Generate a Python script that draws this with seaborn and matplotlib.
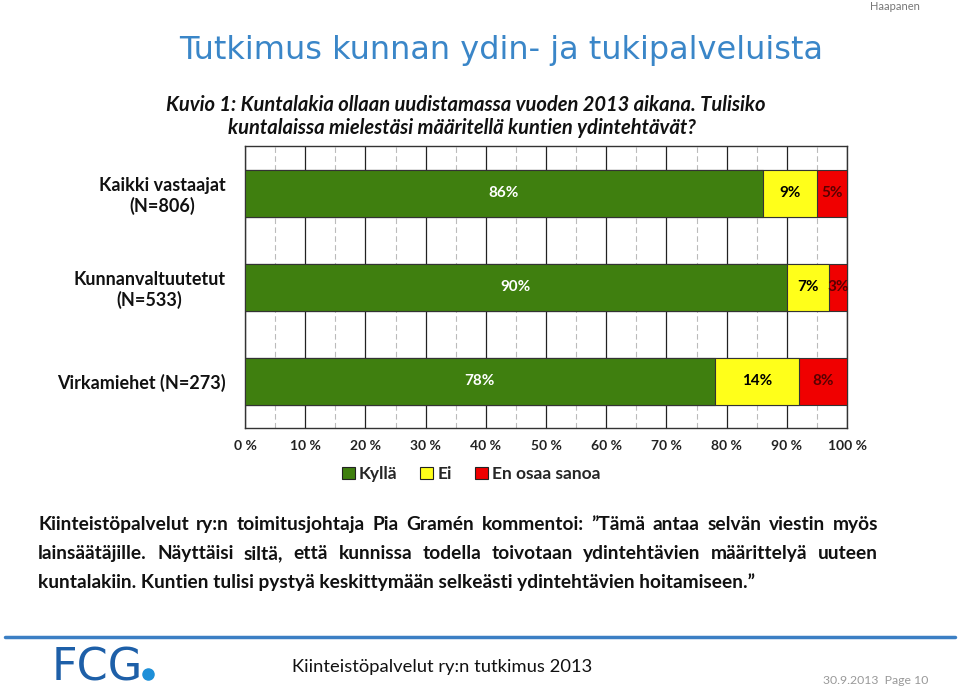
import matplotlib
matplotlib.use("Agg")
import matplotlib.pyplot as plt
from matplotlib.patches import Patch
from matplotlib.lines import Line2D
from matplotlib.ticker import MultipleLocator, FuncFormatter
import seaborn as sns
import pandas as pd
import numpy as np

# ---- data ----
categories = ["Kaikki vastaajat\n(N=806)", "Kunnanvaltuutetut\n(N=533)", "Virkamiehet (N=273)"]
kylla = [86, 90, 78]
ei = [9, 7, 14]
en_osaa = [5, 3, 8]
series_names = ["Kyllä", "Ei", "En osaa sanoa"]

title = "Tutkimus kunnan ydin- ja tukipalveluista"
subtitle = ["Kuvio 1: Kuntalakia ollaan uudistamassa vuoden 2013 aikana. Tulisiko",
            "kuntalaissa mielestäsi määritellä kuntien ydintehtävät?"]
comment_lines = [
    "Kiinteistöpalvelut ry:n toimitusjohtaja Pia Gramén kommentoi: ”Tämä antaa selvän viestin myös",
    "lainsäätäjille. Näyttäisi siltä, että kunnissa todella toivotaan ydintehtävien määrittelyä uuteen",
    "kuntalakiin. Kuntien tulisi pystyä keskittymään selkeästi ydintehtävien hoitamiseen.”",
]
footer = "Kiinteistöpalvelut ry:n tutkimus 2013"
date_page = "30.9.2013  Page 10"
author = "Haapanen"

colors = ["#3F7F0F", "#FFFF1A", "#F00000"]
text_colors = ["white", "black", "#5a0000"]

sns.set_theme(style="white")
plt.rcParams["font.family"] = ["Lato", "DejaVu Sans"]

fig = plt.figure(figsize=(9.6, 6.91), dpi=100)
W, H = 960, 691
ax = fig.add_axes([245 / W, 1 - 428 / H, (847 - 245) / W, (428 - 146) / H])

df = pd.DataFrame({"cat": categories, "Kyllä": kylla, "Ei": ei, "En osaa sanoa": en_osaa})
vals = df[series_names].to_numpy()
cum = np.cumsum(vals, axis=1)

# draw stacked bars from the longest (total) to shortest
for i in reversed(range(3)):
    sns.barplot(x=cum[:, i], y=df["cat"], orient="h", color=colors[i], width=0.5,
                edgecolor="#333333", linewidth=0.8, saturation=1, ax=ax, zorder=3)

# segment labels
for r in range(3):
    for i in range(3):
        left = cum[r, i] - vals[r, i]
        ax.text(left + vals[r, i] / 2, r, f"{vals[r, i]}%", ha="center", va="center",
                color=text_colors[i], fontsize=11, fontweight="bold", zorder=5)

ax.set_xlim(0, 100)
ax.set_ylim(2.5, -0.5)
ax.xaxis.set_major_locator(MultipleLocator(10))
ax.xaxis.set_minor_locator(MultipleLocator(5))
ax.xaxis.set_major_formatter(FuncFormatter(lambda v, p: f"{int(v)} %"))
ax.grid(which="major", axis="x", color="#222222", linewidth=0.9, linestyle="-")
ax.grid(which="minor", axis="x", color="#bbbbbb", linewidth=0.8, linestyle=(0, (5, 3)))
ax.set_axisbelow(True)
ax.set_xlabel("")
ax.set_ylabel("")
for s in ax.spines.values():
    s.set_color("#333333")
    s.set_linewidth(1.0)
ax.tick_params(axis="x", which="both", length=0, pad=9, labelsize=10)
ax.tick_params(axis="y", length=0, pad=14, labelsize=13)
for lab in ax.get_xticklabels():
    lab.set_fontweight("bold")
    lab.set_color("#222222")
for lab in ax.get_yticklabels():
    lab.set_fontweight("bold")
    lab.set_multialignment("center")
    lab.set_color("#111111")

# legend
handles = [Patch(facecolor=c, edgecolor="#222222", linewidth=0.8) for c in colors]
fig.legend(handles, series_names, loc="center", bbox_to_anchor=(471 / W, 1 - 474 / H),
           ncol=3, frameon=False, handlelength=0.75, handleheight=0.75, handletextpad=0.25,
           columnspacing=1.3, prop={"weight": "bold", "size": 12.5})

# titles
fig.text(501 / W, 1 - 50 / H, title, ha="center", va="center", color="#3A86C8",
         fontsize=23, family=["DejaVu Sans"])
fig.text(166 / W, 1 - 105 / H, subtitle[0], ha="left", va="center", color="#111111",
         fontsize=14.5, fontweight="bold", fontstyle="italic")
fig.text(228 / W, 1 - 128 / H, subtitle[1], ha="left", va="center", color="#111111",
         fontsize=14.5, fontweight="bold", fontstyle="italic")

# justified comment paragraph (baseline aligned)
fig.canvas.draw()
renderer = fig.canvas.get_renderer()
x0, x1 = 38, 878
baselines = [530, 559, 588]
fs = 13.8
for li, line in enumerate(comment_lines):
    y = 1 - baselines[li] / H
    if li == len(comment_lines) - 1:
        fig.text(x0 / W, y, line, ha="left", va="baseline", fontsize=fs, fontweight="bold",
                 color="#111111")
        continue
    words = line.split(" ")
    widths = []
    for w in words:
        t = fig.text(0, 0, w, fontsize=fs, fontweight="bold")
        widths.append(t.get_window_extent(renderer).width)
        t.remove()
    gap = ((x1 - x0) - sum(widths)) / (len(words) - 1)
    xpos = x0
    for w, wd in zip(words, widths):
        fig.text(xpos / W, y, w, ha="left", va="baseline", fontsize=fs, fontweight="bold",
                 color="#111111")
        xpos += wd + gap

# footer
fig.add_artist(Line2D([5 / W, 955 / W], [1 - 637 / H, 1 - 637 / H], transform=fig.transFigure,
                      color="#3B7FC4", linewidth=2.5))
fig.text(52 / W, 1 - 668 / H, "FCG", ha="left", va="center", color="#1D5FA8", fontsize=32,
         family=["DejaVu Sans"])
fig.add_artist(Line2D([148 / W], [1 - 674 / H], transform=fig.transFigure, marker="o",
                      markersize=8, color="#1D8FD8", linestyle="none"))
fig.text(292 / W, 1 - 667 / H, footer, ha="left", va="center", color="#111111", fontsize=13.2)
fig.text(928 / W, 1 - 680 / H, date_page, ha="right", va="center", color="#999999", fontsize=8.8)
fig.text(920 / W, 1 - 6 / H, author, ha="right", va="center", color="#777777", fontsize=8)

fig.savefig("out.png", dpi=100)
